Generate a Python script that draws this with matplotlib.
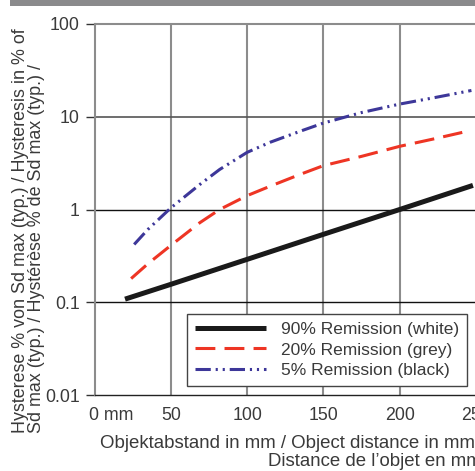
import matplotlib
matplotlib.use('Agg')
import matplotlib.pyplot as plt
import matplotlib.transforms as mtransforms
from matplotlib.patches import Rectangle

plt.rcParams['font.family'] = ['Liberation Sans', 'DejaVu Sans']

# distances in mm, hysteresis in % of Sd max
dist_white = [20, 50, 100, 150, 200, 248]
hyst_white = [0.108, 0.156, 0.29, 0.54, 1.0, 1.82]

dist_grey = [24, 35, 50, 69, 82, 100, 115, 135, 150, 175, 200, 223, 241]
hyst_grey = [0.18, 0.26, 0.41, 0.72, 1.0, 1.41, 1.78, 2.4, 2.97, 3.74, 4.8, 5.8, 6.78]

dist_black = [26, 35, 50, 69, 82, 100, 115, 135, 150, 175, 200, 223, 247]
hyst_black = [0.42, 0.61, 1.04, 1.86, 2.7, 4.13, 5.3, 7.0, 8.55, 11.1, 13.7, 16.1, 19.2]

x_ticks = [0, 50, 100, 150, 200, 250]
x_ticklabels = ['0 mm', '50', '100', '150', '200', '250']
y_ticks = [0.01, 0.1, 1, 10, 100]
y_ticklabels = ['0.01', '0.1', '1', '10', '100']

txt = '#3a3a3a'
fig = plt.figure(figsize=(4.75, 4.71), dpi=100)
fig.patches.append(Rectangle((10 / 475, 1 - 6 / 471), 1, 6 / 471,
                             transform=fig.transFigure, color='#8a8a8c', lw=0))

ax = fig.add_axes([94.5 / 475, 76 / 471, 381.5 / 475, 371 / 471])
ax.set_yscale('log')
ax.set_xlim(0, 250)
ax.set_ylim(0.01, 100)

# grid
for xv in [50, 100, 150, 200]:
    ax.axvline(xv, color='#8c8c8c', lw=1.5, zorder=1)
ax.axhline(10, color='#555555', lw=1.2, zorder=1)
ax.axhline(1, color='#111111', lw=1.0, zorder=1)
ax.axhline(0.1, color='#111111', lw=1.0, zorder=1)

ax.plot(dist_white, hyst_white, color='#1a1a1a', lw=3.6,
        solid_capstyle='butt', label='90% Remission (white)', zorder=3)
ax.plot(dist_grey, hyst_grey, color='#ee3524', lw=2.2,
        linestyle=(0, (6.5, 3)), label='20% Remission (grey)', zorder=3)
ax.plot(dist_black, hyst_black, color='#3d3799', lw=2.2,
        linestyle=(0, (5, 1.6, 0.7, 1.6, 0.7, 1.6)),
        label='5% Remission (black)', zorder=3)

ax.spines['left'].set_color('#8c8c8c')
ax.spines['left'].set_linewidth(1.5)
ax.spines['top'].set_color('#8c8c8c')
ax.spines['top'].set_linewidth(1.5)
ax.spines['bottom'].set_color('#222222')
ax.spines['bottom'].set_linewidth(1.0)
ax.spines['right'].set_visible(False)

ax.set_xticks(x_ticks)
ax.set_xticklabels(x_ticklabels)
ax.set_yticks(y_ticks)
ax.set_yticklabels(y_ticklabels)
ax.minorticks_off()
ax.tick_params(axis='y', length=6.5, width=1.0, color='#333333', pad=4,
               labelsize=12.8, labelcolor=txt)
ax.tick_params(axis='x', length=0, pad=9, labelsize=12.8, labelcolor=txt)
lab0 = ax.get_xticklabels()[0]
lab0.set_horizontalalignment('left')
lab0.set_transform(lab0.get_transform() +
                   mtransforms.ScaledTranslation(-4 / 72, 0, fig.dpi_scale_trans))

leg = ax.legend(loc='lower right', bbox_to_anchor=(0.9756, 0.025),
                fontsize=12.5, handlelength=4.1, handletextpad=0.85,
                labelspacing=0.3, borderpad=0.45, fancybox=False,
                framealpha=1, edgecolor='#444444', borderaxespad=0)
leg.get_frame().set_linewidth(1.0)
for t in leg.get_texts():
    t.set_color(txt)

fig.text(12 / 475, 1 - 433 / 471,
         'Hysterese % von Sd max (typ.) / Hysteresis in % of\n'
         'Sd max (typ.) / Hystérèse % de Sd max (typ.) /',
         rotation=90, ha='left', va='bottom', multialignment='left',
         fontsize=12.9, color=txt, linespacing=0.95)

fig.text(100 / 475, 1 - 435 / 471,
         'Objektabstand in mm / Object distance in mm /',
         ha='left', va='top', fontsize=13.4, color=txt)
fig.text(268 / 475, 1 - 453 / 471,
         'Distance de l\u2019objet en mm',
         ha='left', va='top', fontsize=13.4, color=txt)

fig.savefig('out.png', dpi=100)
